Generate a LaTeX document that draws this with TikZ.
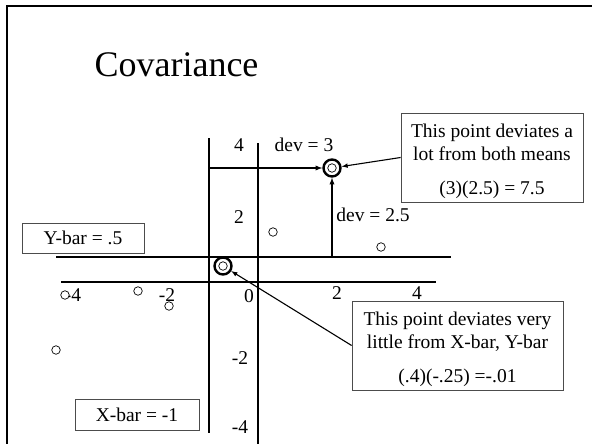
\documentclass[tikz,border=0pt]{standalone}
\usepackage{fontspec}
\setmainfont{Liberation Serif}

\begin{document}
\begin{tikzpicture}[x=1pt, y=-1pt,
        every node/.style={font=\fontsize{19.5}{23}\selectfont},
        axisline/.style={line width=2pt},
        datapt/.style={circle, draw, fill=white, line width=0.7pt, minimum size=8.5pt, inner sep=0pt},
        bigpt/.style={circle, draw, line width=2.4pt, minimum size=17pt, inner sep=0pt},
        note/.style={draw=black!70, line width=0.8pt, align=center, inner sep=0pt},
        devarrow/.style={-latex, line width=1.3pt}]
        \useasboundingbox (0,0) rectangle (592,444);
        % slide frame and title
        \draw [line width=2pt] (7,444) -- (7,6) -- (592,6);
        \node [anchor=base west, font=\fontsize{36}{40}\selectfont] (title) at (91,77) {Covariance};
        % axes and the two mean lines
        \draw [axisline] (209,138) -- (209,433);
        \draw [axisline] (258,143) -- (258,444);
        \draw [axisline] (56,257) -- (451,257);
        \draw [axisline] (61,282) -- (436,282);
        % tick labels
        \node (y4) at (239,145) {4};
        \node (y2) at (239,217) {2};
        \node (y0) at (249,296) {0};
        \node (ym2) at (240,358) {-2};
        \node (ym4) at (240,427) {-4};
        \node (xm4) at (73,295) {-4};
        \node (xm2) at (167,295) {-2};
        \node (x2) at (337,293) {2};
        \node (x4) at (417,293) {4};
        % data points
        \node [datapt] (p1) at (273,232) {};
        \node [datapt] (p2) at (381,247) {};
        \node [datapt] (p3) at (65,295) {};
        \node [datapt] (p4) at (138,291) {};
        \node [datapt] (p5) at (169,306) {};
        \node [datapt] (p6) at (56,350) {};
        \node [bigpt] (hi) at (332,168) {};
        \node [datapt] (hipt) at (332,168) {};
        \node [bigpt] (lo) at (223,266) {};
        \node [datapt] (lopt) at (223,266) {};
        % deviations
        \coordinate (xbarhi) at (209,168);
        \coordinate (ybarhi) at (332,257);
        \draw [devarrow] (xbarhi) -- (hi);
        \draw [devarrow] (ybarhi) -- (hi);
        \node (dev3) at (304,145) {dev = 3};
        \node (dev25) at (373,215) {dev = 2.5};
        % notes
        \node [note, minimum width=182pt, minimum height=89pt] (lotbox) at (492,157.5)
            {\rule{0pt}{21pt}This point deviates a\\lot from both means\\[11pt](3)(2.5) = 7.5};
        \node [note, minimum width=211pt, minimum height=89pt] (littlebox) at (457.5,345.5)
            {\rule{0pt}{21pt}This point deviates very\\little from X-bar, Y-bar\\[11pt](.4)(-.25) =-.01};
        \node [note, minimum width=122pt, minimum height=30pt] (ybar) at (83,238) {Y-bar = .5};
        \node [note, minimum width=124pt, minimum height=31pt] (xbar) at (137,414.5) {X-bar = -1};
        \draw [-latex, line width=1.1pt] (lotbox.west) -- (hi);
        \draw [-latex, line width=1.1pt] (littlebox.west) -- (lo);
\end{tikzpicture}
\end{document}
